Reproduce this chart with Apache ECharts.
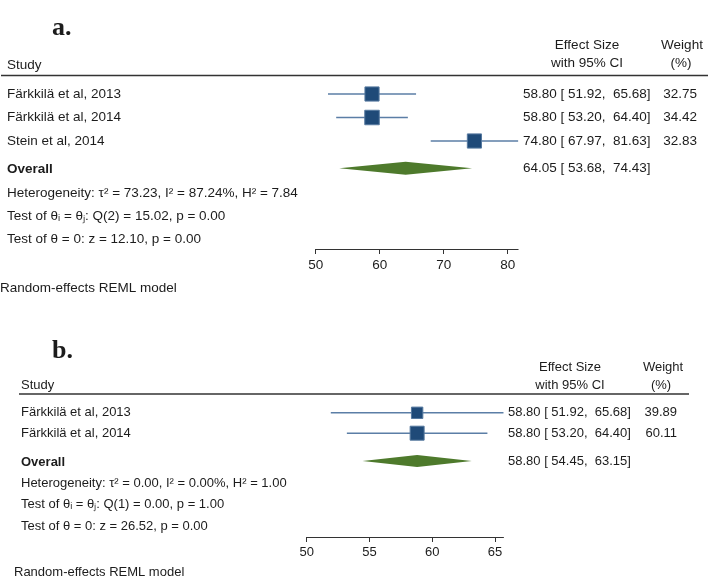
<!DOCTYPE html>
<html>
<head>
<meta charset="utf-8">
<script src="https://cdn.jsdelivr.net/npm/echarts@6/dist/echarts.min.js"></script>
<style>
	html,body{margin:0;padding:0;background:#ffffff;}
	#forest{width:712px;height:578px;}
</style>
</head>
<body>
<div id="forest"></div>
<script>
	// ---- panel a data
	var studiesA = ['Färkkilä et al, 2013', 'Färkkilä et al, 2014', 'Stein et al, 2014'];
	var esA = [58.80, 58.80, 74.80];
	var lowA = [51.92, 53.20, 67.97];
	var highA = [65.68, 64.40, 81.63];
	var weightA = [32.75, 34.42, 32.83];
	var overallA = [64.05, 53.68, 74.43];      // es, low, high
	var hetA = [73.23, 87.24, 7.84];           // tau2, I2, H2
	var qTestA = [2, 15.02, 0.00];             // df, Q, p
	var zTestA = [12.10, 0.00];                // z, p
	var ticksA = [50, 60, 70, 80];

	// ---- panel b data
	var studiesB = ['Färkkilä et al, 2013', 'Färkkilä et al, 2014'];
	var esB = [58.80, 58.80];
	var lowB = [51.92, 53.20];
	var highB = [65.68, 64.40];
	var weightB = [39.89, 60.11];
	var overallB = [58.80, 54.45, 63.15];
	var hetB = [0.00, 0.00, 1.00];
	var qTestB = [1, 0.00, 1.00];
	var zTestB = [26.52, 0.00];
	var ticksB = [50, 55, 60, 65];

	var txtcolor = '#1c1c1c';
	var fontfam = '"Liberation Sans", Arial, sans-serif';

	function f2(v){ return Number(v).toFixed(2); }
	function cistr(e, l, h){ return f2(e) + ' [ ' + f2(l) + ',  ' + f2(h) + ']'; }

	// layout of the two panels (pixel positions only)
	var layA = {
		grid: 0, nameX: 7, esX: 523, wX: 697, fs: 13.5, sqMax: 14.5, dia: 13,
		rowTop: 94, rowStep: 23.5, overallRow: 3.16, axisY: 249,
		xmin: 50, xmax: 81.63, pxUnit: 6.4, left: 315.7
	};
	var layB = {
		grid: 1, nameX: 21, esX: 508, wX: 677, fs: 13, sqMax: 14, dia: 12,
		rowTop: 412.8, rowStep: 20.4, overallRow: 2.36, axisY: 537,
		xmin: 50, xmax: 65.68, pxUnit: 12.55, left: 306.7
	};

	function gridOf(L){
		var top = L.rowTop - L.rowStep;
		return {
			left: L.left,
			top: top,
			width: (L.xmax - L.xmin) * L.pxUnit,
			height: L.axisY - top
		};
	}
	function ymaxOf(L){ return (L.axisY - L.rowTop) / L.rowStep; }

	function xAxisOf(L, ticks){
		return {
			type: 'value', gridIndex: L.grid, min: L.xmin, max: L.xmax, position: 'bottom',
			axisLine: {show: true, onZero: false, lineStyle: {color: '#333333', width: 1}},
			axisTick: {show: true, inside: false, length: 5, customValues: ticks, lineStyle: {color: '#333333'}},
			axisLabel: {show: true, customValues: ticks, margin: 9, color: txtcolor, fontSize: L.fs, fontFamily: fontfam},
			splitLine: {show: false}
		};
	}
	function yAxisOf(L){
		return {type: 'value', gridIndex: L.grid, min: -1, max: ymaxOf(L), inverse: true, show: false};
	}

	function studyData(es, lo, hi){
		var d = [];
		for(var i = 0; i < es.length; i++){
			d.push([es[i], i, lo[i], hi[i]]);
		}
		return d;
	}

	function studyRender(L, names, weights){
		var maxw = Math.max.apply(null, weights);
		return function(params, api){
			var i = params.dataIndex;
			var c = api.coord([api.value(0), api.value(1)]);
			var a = api.coord([api.value(2), api.value(1)]);
			var b = api.coord([api.value(3), api.value(1)]);
			var s = L.sqMax * Math.sqrt(weights[i] / maxw);
			var tstyle = {fill: txtcolor, fontSize: L.fs, fontFamily: fontfam, textVerticalAlign: 'middle'};
			return {
				type: 'group',
				children: [
					{type: 'line', shape: {x1: a[0], y1: a[1], x2: b[0], y2: b[1]}, style: {stroke: '#5b7ea6', lineWidth: 1.5}},
					{type: 'rect', shape: {x: c[0] - s / 2, y: c[1] - s / 2, width: s, height: s}, style: {fill: '#1f4a78', stroke: '#56799f', lineWidth: 1}},
					{type: 'text', style: Object.assign({x: L.nameX, y: c[1], text: names[i], textAlign: 'left'}, tstyle)},
					{type: 'text', style: Object.assign({x: L.esX, y: c[1], text: cistr(api.value(0), api.value(2), api.value(3)), textAlign: 'left'}, tstyle)},
					{type: 'text', style: Object.assign({x: L.wX, y: c[1], text: f2(weights[i]), textAlign: 'right'}, tstyle)}
				]
			};
		};
	}

	function overallRender(L){
		return function(params, api){
			var c = api.coord([api.value(0), api.value(1)]);
			var a = api.coord([api.value(2), api.value(1)]);
			var b = api.coord([api.value(3), api.value(1)]);
			var h = L.dia / 2;
			var tstyle = {fill: txtcolor, fontSize: L.fs, fontFamily: fontfam, textVerticalAlign: 'middle'};
			return {
				type: 'group',
				children: [
					{type: 'polygon', shape: {points: [[a[0], c[1]], [c[0], c[1] - h], [b[0], c[1]], [c[0], c[1] + h]]}, style: {fill: '#4e7a2c'}},
					{type: 'text', style: Object.assign({x: L.nameX, y: c[1] + 1, text: 'Overall', textAlign: 'left', fontWeight: 'bold'}, tstyle)},
					{type: 'text', style: Object.assign({x: L.esX, y: c[1], text: cistr(api.value(0), api.value(2), api.value(3)), textAlign: 'left'}, tstyle)}
				]
			};
		};
	}

	function txt(x, y, s, fs, align, extra){
		var st = {text: s, x: x, y: y, fill: txtcolor, fontSize: fs, fontFamily: fontfam, textAlign: align || 'left', textVerticalAlign: 'middle'};
		if(extra){ Object.assign(st, extra); }
		return {type: 'text', style: st, z: 10};
	}
	function hline(x1, x2, y){
		return {type: 'line', shape: {x1: x1, y1: y, x2: x2, y2: y}, style: {stroke: '#333333', lineWidth: 1.3}, z: 10};
	}
	function statLines(het, qt, zt){
		return [
			'Heterogeneity: τ² = ' + f2(het[0]) + ', I² = ' + f2(het[1]) + '%, H² = ' + f2(het[2]),
			'Test of θᵢ = θⱼ: Q(' + qt[0] + ') = ' + f2(qt[1]) + ', p = ' + f2(qt[2]),
			'Test of θ = 0: z = ' + f2(zt[0]) + ', p = ' + f2(zt[1])
		];
	}

	var statA = statLines(hetA, qTestA, zTestA);
	var statB = statLines(hetB, qTestB, zTestB);
	var letterFont = {fontFamily: '"Liberation Serif", "Times New Roman", serif', fontWeight: 'bold', textVerticalAlign: 'alphabetic'};

	var graphics = [
		// panel a
		txt(52, 15, 'a.', 26, 'left', letterFont),
		txt(7, 65, 'Study', 13.5),
		txt(587, 45, 'Effect Size', 13.5, 'center'),
		txt(587, 63, 'with 95% CI', 13.5, 'center'),
		txt(682, 45, 'Weight', 13.5, 'center'),
		txt(681, 63, '(%)', 13.5, 'center'),
		hline(1, 708, 75.5),
		txt(7, 193, statA[0], 13.5),
		txt(7, 216, statA[1], 13.5),
		txt(7, 239, statA[2], 13.5),
		txt(0, 288, 'Random-effects REML model', 13.5),
		// panel b
		txt(52, 338, 'b.', 26, 'left', letterFont),
		txt(21, 385, 'Study', 13),
		txt(570, 367, 'Effect Size', 13, 'center'),
		txt(570, 385, 'with 95% CI', 13, 'center'),
		txt(663, 367, 'Weight', 13, 'center'),
		txt(661, 385, '(%)', 13, 'center'),
		hline(19, 689, 394),
		txt(21, 483, statB[0], 13),
		txt(21, 504, statB[1], 13),
		txt(21, 526, statB[2], 13),
		txt(14, 572, 'Random-effects REML model', 13)
	];

	var option = {
		backgroundColor: '#ffffff',
		animation: false,
		grid: [gridOf(layA), gridOf(layB)],
		xAxis: [xAxisOf(layA, ticksA), xAxisOf(layB, ticksB)],
		yAxis: [yAxisOf(layA), yAxisOf(layB)],
		graphic: graphics,
		series: [
			{
				type: 'custom', xAxisIndex: 0, yAxisIndex: 0, clip: false,
				renderItem: studyRender(layA, studiesA, weightA),
				encode: {x: 0, y: 1},
				data: studyData(esA, lowA, highA)
			},
			{
				type: 'custom', xAxisIndex: 0, yAxisIndex: 0, clip: false,
				renderItem: overallRender(layA),
				encode: {x: 0, y: 1},
				data: [[overallA[0], layA.overallRow, overallA[1], overallA[2]]]
			},
			{
				type: 'custom', xAxisIndex: 1, yAxisIndex: 1, clip: false,
				renderItem: studyRender(layB, studiesB, weightB),
				encode: {x: 0, y: 1},
				data: studyData(esB, lowB, highB)
			},
			{
				type: 'custom', xAxisIndex: 1, yAxisIndex: 1, clip: false,
				renderItem: overallRender(layB),
				encode: {x: 0, y: 1},
				data: [[overallB[0], layB.overallRow, overallB[1], overallB[2]]]
			}
		]
	};

	var myforestchart = echarts.init(document.getElementById('forest'));
	myforestchart.setOption(option);
</script>
</body>
</html>
